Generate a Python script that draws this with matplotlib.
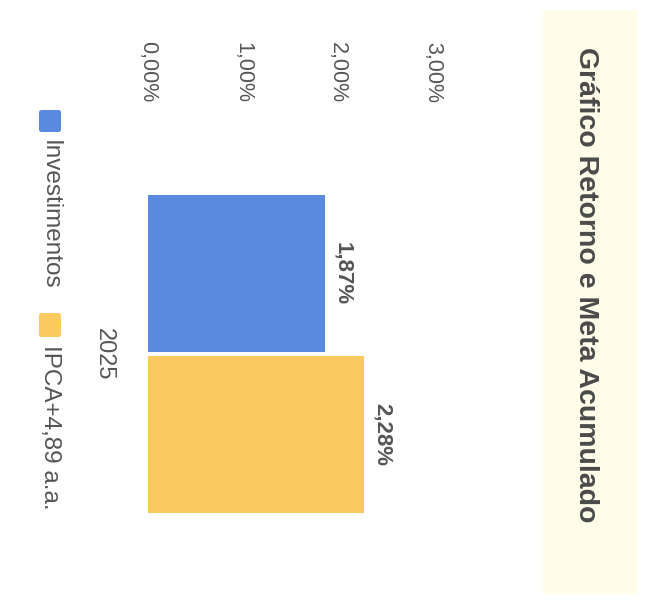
import matplotlib.pyplot as plt
from matplotlib.patches import Rectangle, FancyBboxPatch
import numpy as np

# data
categoria = ["2025"]
series = ["Investimentos", "IPCA+4,89 a.a."]
valores = [1.87, 2.28]
ticks = [0, 1, 2, 3]
cores = ["#5a8ae0", "#fac95f"]

plt.rcParams['font.family'] = ['Liberation Sans', 'DejaVu Sans']
cinza = "#555555"

W, H = 645, 601
fig = plt.figure(figsize=(6.45, 6.01), dpi=100)
fig.patch.set_facecolor("white")

def fx(px):
    return px / W

def fy(py):
    return 1 - py / H

# painel do titulo (creme)
fig.add_artist(Rectangle((fx(543), fy(594)), fx(637) - fx(543), fy(10) - fy(594),
                         transform=fig.transFigure, facecolor="#fffdea",
                         edgecolor="none", zorder=-1))

ax = fig.add_axes([fx(148), fy(590), fx(480) - fx(148), (590 - 118) / H])
ax.set_facecolor("none")

offs = [-0.255, 0.255]
for i, (nome, v) in enumerate(zip(series, valores)):
    ax.barh(offs[i], v, height=0.5, color=cores[i], label=nome)
    ax.text(v + 0.075, offs[i], f"{v:.2f}".replace(".", ",") + "%",
            rotation=-90, ha="left", va="center", fontsize=16,
            fontweight="bold", color=cinza)

ax.set_xlim(0, 3.5)
ax.set_ylim(0.75, -0.75)
ax.xaxis.tick_top()
ax.set_xticks(ticks)
ax.set_xticklabels([f"{t:.2f}".replace(".", ",") + "%" for t in ticks],
                   rotation=-90, fontsize=15.5, color=cinza)
ax.set_yticks([0])
ax.set_yticklabels(categoria, rotation=-90, va="center", fontsize=17, color=cinza)
ax.tick_params(axis="x", length=0, pad=11)
ax.tick_params(axis="y", length=0, pad=24)
for s in ax.spines.values():
    s.set_visible(False)

# legenda manual (rotacionada)
leg_sq = [(110, 132), (313, 337)]
leg_txt = [140, 345]
for i, nome in enumerate(series):
    y0, y1 = leg_sq[i]
    fig.add_artist(FancyBboxPatch((fx(39), fy(y1)), fx(61) - fx(39), fy(y0) - fy(y1),
                                  boxstyle="round,pad=0,rounding_size=0.004",
                                  transform=fig.transFigure, facecolor=cores[i],
                                  edgecolor="none"))
    fig.text(fx(50), fy(leg_txt[i]), nome, rotation=-90, ha="center", va="top",
             fontsize=17.5, color=cinza)

fig.text(fx(586), fy(285), "Gráfico Retorno e Meta Acumulado", rotation=-90,
         ha="center", va="center", fontsize=20.5, fontweight="bold", color="#4a4a4a")

plt.savefig("out.png", dpi=100)
